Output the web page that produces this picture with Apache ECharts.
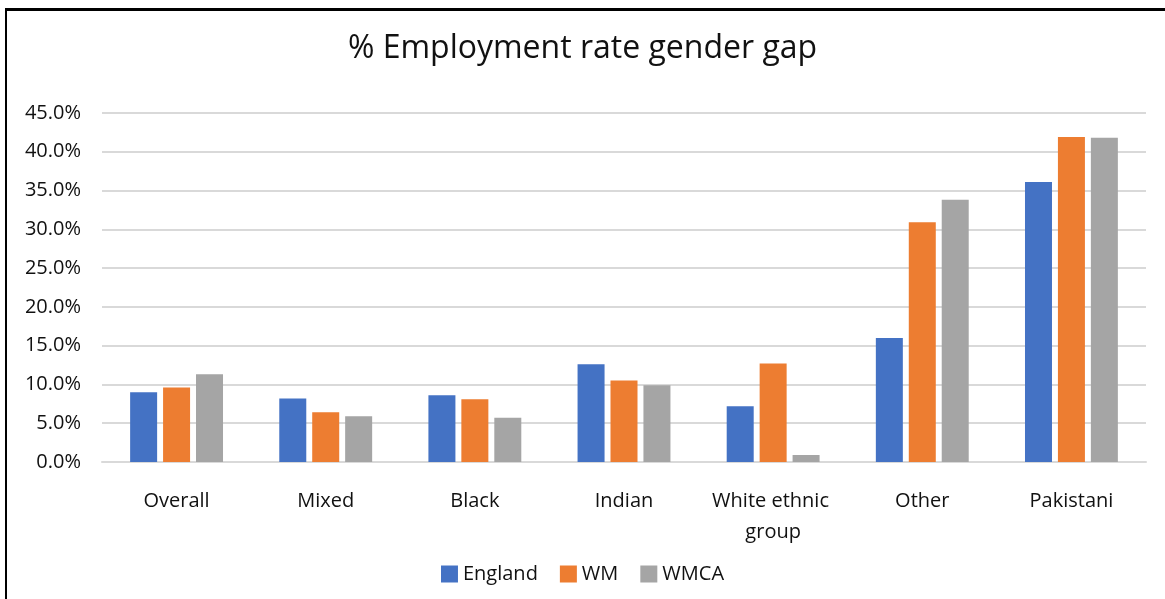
<!DOCTYPE html>
<html>
<head>
<meta charset="utf-8">
<script src="https://cdn.jsdelivr.net/npm/echarts@6/dist/echarts.min.js"></script>
<style>
html,body{margin:0;padding:0;background:#fff;}
#wrap{position:relative;width:1165px;height:599px;overflow:hidden;}
#chart{width:1165px;height:599px;}
#frame{position:absolute;left:5px;top:8px;width:1300px;height:800px;border-left:2px solid #000;border-top:3px solid #000;pointer-events:none;}
</style>
</head>
<body>
<div id="wrap">
<div id="chart"></div>
<div id="frame"></div>
</div>
<script>
const categories = ['Overall', 'Mixed', 'Black', 'Indian', 'White ethnic group', 'Other', 'Pakistani'];
const england = [9.0, 8.2, 8.6, 12.6, 7.2, 16.0, 36.1];
const wm = [9.6, 6.4, 8.1, 10.5, 12.7, 30.9, 41.9];
const wmca = [11.3, 5.9, 5.7, 9.9, 0.9, 33.8, 41.8];
const yTicks = [0, 5, 10, 15, 20, 25, 30, 35, 40, 45];

const font = "'Open Sans', 'Liberation Sans', sans-serif";
const chart = echarts.init(document.getElementById('chart'));
function bar(name, data, color) {
  return {
    name: name, type: 'bar', data: data,
    barWidth: 27, barGap: '22%',
    itemStyle: { color: color },
    emphasis: { disabled: true }
  };
}
chart.setOption({
  animation: false,
  backgroundColor: '#fff',
  title: {
    text: '% Employment rate gender gap',
    left: 'center', top: 28,
    textStyle: { fontFamily: font, fontSize: 32, fontWeight: 'normal', color: '#111' }
  },
  legend: {
    bottom: 10, left: 'center',
    itemWidth: 17, itemHeight: 17, itemGap: 22,
    icon: 'rect',
    textStyle: { fontFamily: font, fontSize: 20, color: '#111' },
    data: ['England', 'WM', 'WMCA']
  },
  grid: { left: 102, right: 19, top: 113, bottom: 137 },
  xAxis: {
    type: 'category', data: categories,
    axisLine: { lineStyle: { color: '#d9d9d9', width: 2 } },
    axisTick: { show: false },
    axisLabel: {
      fontFamily: font, fontSize: 20, color: '#111', margin: 24,
      lineHeight: 31, width: 145, overflow: 'break', interval: 0
    }
  },
  yAxis: {
    type: 'value', min: yTicks[0], max: yTicks[yTicks.length - 1], interval: 5,
    axisLine: { show: false }, axisTick: { show: false },
    splitLine: { lineStyle: { color: '#d9d9d9', width: 2 } },
    axisLabel: {
      fontFamily: font, fontSize: 20, color: '#111', margin: 21,
      padding: [6, 0, 0, 0],
      formatter: v => v.toFixed(1) + '%'
    }
  },
  series: [
    bar('England', england, '#4472c4'),
    bar('WM', wm, '#ed7d31'),
    bar('WMCA', wmca, '#a5a5a5')
  ]
});
</script>
</body>
</html>
